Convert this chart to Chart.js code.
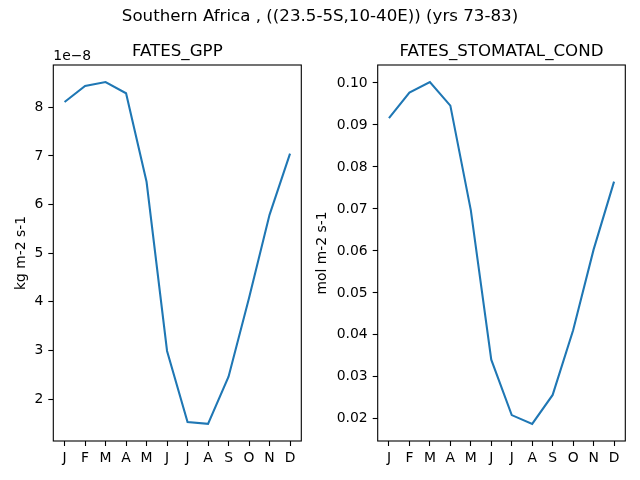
<!DOCTYPE html>
<html>
<head>
<meta charset="utf-8">
<script src="https://cdn.jsdelivr.net/npm/chart.js@4"></script>
<style>
  body { margin: 0; background: #fff; }
  #wrap { position: relative; width: 640px; height: 480px; }
  #wrap canvas { position: absolute; left: 0; top: 0; }
</style>
</head>
<body>
<div id="wrap">
  <canvas id="gppChart" width="640" height="480"></canvas>
  <canvas id="condChart" width="640" height="480"></canvas>
</div>
<script>
// Dados
const months = ["J", "F", "M", "A", "M", "J", "J", "A", "S", "O", "N", "D"];
const gppValues = [8.11e-8, 8.44e-8, 8.52e-8, 8.29e-8, 6.47e-8, 2.99e-8, 1.53e-8, 1.49e-8, 2.46e-8, 4.08e-8, 5.79e-8, 7.05e-8];
const condValues = [0.0916, 0.0977, 0.1002, 0.0946, 0.0697, 0.0341, 0.0209, 0.0188, 0.0257, 0.0411, 0.0603, 0.0765];
const gppTicks = [2, 3, 4, 5, 6, 7, 8];
const condTicks = [0.02, 0.03, 0.04, 0.05, 0.06, 0.07, 0.08, 0.09, 0.10];

const suptitle = "Southern Africa , ((23.5-5S,10-40E)) (yrs 73-83)";
const FONT = "DejaVu Sans";

// margem de 5% como no matplotlib
function limits(values) {
    const lo = Math.min(...values), hi = Math.max(...values);
    const m = (hi - lo) * 0.05;
    return [lo - m, hi + m];
}

// moldura, título e textos extras
const framePlugin = {
    id: "frame",
    afterDraw(chart, args, opts) {
        const ctx = chart.ctx;
        const a = chart.chartArea;
        ctx.save();
        ctx.strokeStyle = "#000";
        ctx.lineWidth = 1.1;
        ctx.strokeRect(a.left, a.top, a.right - a.left, a.bottom - a.top);
        ctx.fillStyle = "#000";
        ctx.textAlign = "center";
        ctx.textBaseline = "middle";
        ctx.font = "16.67px '" + FONT + "'";
        ctx.fillText(opts.title, (a.left + a.right) / 2, 52);
        if (opts.suptitle) {
            ctx.fillText(opts.suptitle, 320, 17);
        }
        if (opts.offsetText) {
            ctx.textAlign = "left";
            ctx.font = "13.9px '" + FONT + "'";
            ctx.fillText(opts.offsetText, a.left, 56);
        }
        ctx.restore();
    }
};

function makeChart(id, values, tickList, opts) {
    const [yMin, yMax] = limits(values);
    const ctx = document.getElementById(id).getContext("2d");
    return new Chart(ctx, {
        type: "line",
        data: {
            datasets: [{
                data: values.map((v, i) => ({ x: i, y: v })),
                borderColor: "#1f77b4",
                borderWidth: 2.08,
                pointRadius: 0,
                tension: 0,
                fill: false
            }]
        },
        options: {
            responsive: false,
            animation: false,
            devicePixelRatio: 1,
            layout: { padding: { left: opts.padLeft, right: opts.padRight, top: 65, bottom: 0 } },
            plugins: {
                legend: { display: false },
                tooltip: { enabled: false },
                frame: { title: opts.title, suptitle: opts.suptitle, offsetText: opts.offsetText }
            },
            scales: {
                x: {
                    type: "linear",
                    min: -0.55,
                    max: 11.55,
                    afterFit: s => { s.height = 39; },
                    afterBuildTicks: s => { s.ticks = months.map((m, i) => ({ value: i })); },
                    ticks: {
                        autoSkip: false,
                        maxRotation: 0,
                        padding: 4,
                        color: "#000",
                        font: { family: FONT, size: 13.9 },
                        callback: v => months[v]
                    },
                    grid: { drawOnChartArea: false, tickLength: 5, tickColor: "#000", tickWidth: 1.1 },
                    border: { display: false }
                },
                y: {
                    type: "linear",
                    min: yMin,
                    max: yMax,
                    afterFit: s => { s.width = opts.axisWidth; },
                    afterBuildTicks: s => { s.ticks = tickList.map(t => ({ value: t * opts.tickScale })); },
                    ticks: {
                        padding: 5,
                        color: "#000",
                        font: { family: FONT, size: 13.9 },
                        callback: v => opts.tickFormat(v)
                    },
                    grid: { drawOnChartArea: false, tickLength: 5, tickColor: "#000", tickWidth: 1.1 },
                    border: { display: false },
                    title: {
                        display: true,
                        text: opts.yLabel,
                        color: "#000",
                        font: { family: FONT, size: 13.9 },
                        padding: { top: opts.titlePad, bottom: 0 }
                    }
                }
            }
        },
        plugins: [framePlugin]
    });
}

makeChart("gppChart", gppValues, gppTicks, {
    padLeft: 0,
    padRight: 338.7,
    axisWidth: 53.3,
    titlePad: 12.6,
    title: "FATES_GPP",
    suptitle: suptitle,
    offsetText: "1e\u22128",
    yLabel: "kg m-2 s-1",
    tickScale: 1e-8,
    tickFormat: v => String(Math.round(v / 1e-8))
});

makeChart("condChart", condValues, condTicks, {
    padLeft: 300,
    padRight: 14.7,
    axisWidth: 77.7,
    titlePad: 13.6,
    title: "FATES_STOMATAL_COND",
    yLabel: "mol m-2 s-1",
    tickScale: 1,
    tickFormat: v => v.toFixed(2)
});
</script>
</body>
</html>
